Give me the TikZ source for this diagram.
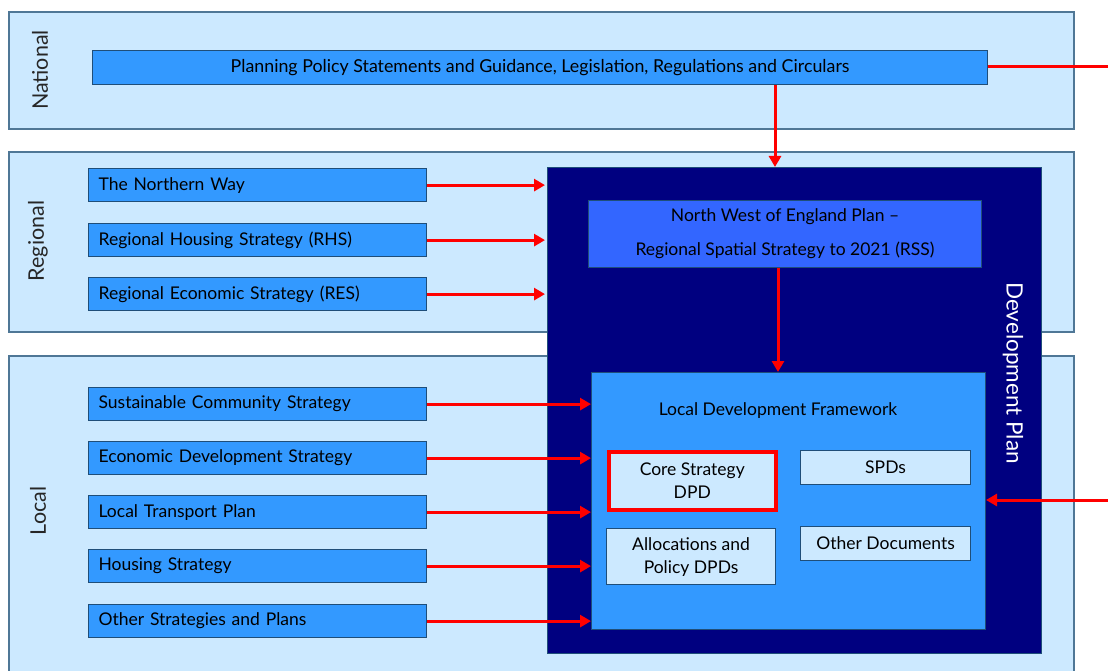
\documentclass[tikz,border=0pt]{standalone}
\usepackage{fontspec}
\setmainfont{Lato}
\usetikzlibrary{arrows.meta}
\definecolor{bandfill}{HTML}{CCE9FF}
\definecolor{bandline}{HTML}{4F7796}
\definecolor{boxfill}{HTML}{3399FF}
\definecolor{boxline}{HTML}{1F4E79}
\definecolor{navy}{HTML}{000080}
\definecolor{rssfill}{HTML}{3366FF}
\definecolor{arrred}{HTML}{FF0000}
\tikzset{
  band/.style={draw=bandline, fill=bandfill, line width=1.2pt},
  leftbox/.style={draw=boxline, fill=boxfill, line width=1.2pt, anchor=north west,
    minimum width=338pt, minimum height=33pt, inner xsep=10pt, text width=318pt,
    align=left, font=\fontsize{17.5}{20}\selectfont},
  innerbox/.style={draw=boxline, fill=bandfill, line width=1.2pt, anchor=north west,
    font=\fontsize{17.5}{23}\selectfont, align=center, inner sep=0pt},
  bandlabel/.style={rotate=90, font=\fontsize{21.5}{24}\selectfont, text=black!85},
  redarrow/.style={draw=arrred, line width=3pt, -{Triangle[length=11pt,width=12pt]}},
  redline/.style={draw=arrred, line width=3pt},
}
\begin{document}
\begin{tikzpicture}[x=1pt,y=-1pt]
\useasboundingbox (0,0) rectangle (1108,671);
% bands
\draw[band] (9,12) rectangle (1074,129);
\draw[band] (9,152) rectangle (1074,332);
\draw[band] (9,356) rectangle (1074,680);
\node[bandlabel] (lnat) at (40,70) {National};
\node[bandlabel] (lreg) at (38,241) {Regional};
\node[bandlabel] (lloc) at (38,511) {Local};
% national box
\node[draw=boxline, fill=boxfill, line width=1.2pt, anchor=north west, minimum width=895pt,
  minimum height=34pt, font=\fontsize{17.8}{20}\selectfont] (pps) at (92,50)
  {Planning Policy Statements and Guidance, Legislation, Regulations and Circulars};
% development plan
\node[draw=boxline, fill=navy, line width=1pt, anchor=north west, minimum width=494pt,
  minimum height=486pt, inner sep=0pt] (dp) at (547,167) {};
\node[rotate=-90, text=white, font=\fontsize{22.5}{24}\selectfont] (dplabel) at (1013,373) {Development Plan};
\node[draw=boxline, fill=rssfill, line width=1pt, anchor=north west, minimum width=393pt,
  minimum height=67pt, align=center, font=\fontsize{17.5}{34}\selectfont] (rss) at (588,200)
  {North West of England Plan --\\Regional Spatial Strategy to 2021 (RSS)};
\node[draw=boxline, fill=boxfill, line width=1pt, anchor=north west, minimum width=394pt,
  minimum height=257pt, inner sep=0pt] (ldf) at (591,372) {};
\node[font=\fontsize{17.5}{20}\selectfont] (ldft) at (778,411) {Local Development Framework};
\node[innerbox, draw=arrred, line width=3.5pt, minimum width=167pt, minimum height=58pt] (core) at (607,450) {Core Strategy\\DPD};
\node[innerbox, minimum width=170pt, minimum height=34pt] (spd) at (800,450) {SPDs};
\node[innerbox, minimum width=169pt, minimum height=56pt] (alloc) at (606,528) {Allocations and\\Policy DPDs};
\node[innerbox, minimum width=170pt, minimum height=34pt] (other) at (800,526) {Other Documents};
% regional boxes
\node[leftbox] (nw) at (88,168) {The Northern Way};
\node[leftbox] (rhs) at (88,223) {Regional Housing Strategy (RHS)};
\node[leftbox] (res) at (88,277) {Regional Economic Strategy (RES)};
% local boxes
\node[leftbox] (scs) at (88,387) {Sustainable Community Strategy};
\node[leftbox] (eds) at (88,441) {Economic Development Strategy};
\node[leftbox] (ltp) at (88,495) {Local Transport Plan};
\node[leftbox] (hs) at (88,549) {Housing Strategy};
\node[leftbox] (osp) at (88,604) {Other Strategies and Plans};
% arrows
\draw[redarrow] (pps.south -| 775,0) -- (dp.north -| 775,0);
\draw[redarrow] (rss.south -| 778,0) -- (ldf.north -| 778,0);
\foreach \n in {nw,rhs,res}{
  \draw[redarrow] (\n.east) -- (\n.east -| 545,0);
}
\foreach \n in {scs,eds,ltp,hs,osp}{
  \draw[redarrow] (\n.east) -- (\n.east -| ldf.west);
}
\coordinate (outtop) at (1110,67);
\coordinate (outbot) at (1110,500);
\draw[redline] (pps.east |- outtop) -- (outtop);
\draw[redarrow] (outbot) -- (outbot -| ldf.east);
\end{tikzpicture}
\end{document}
